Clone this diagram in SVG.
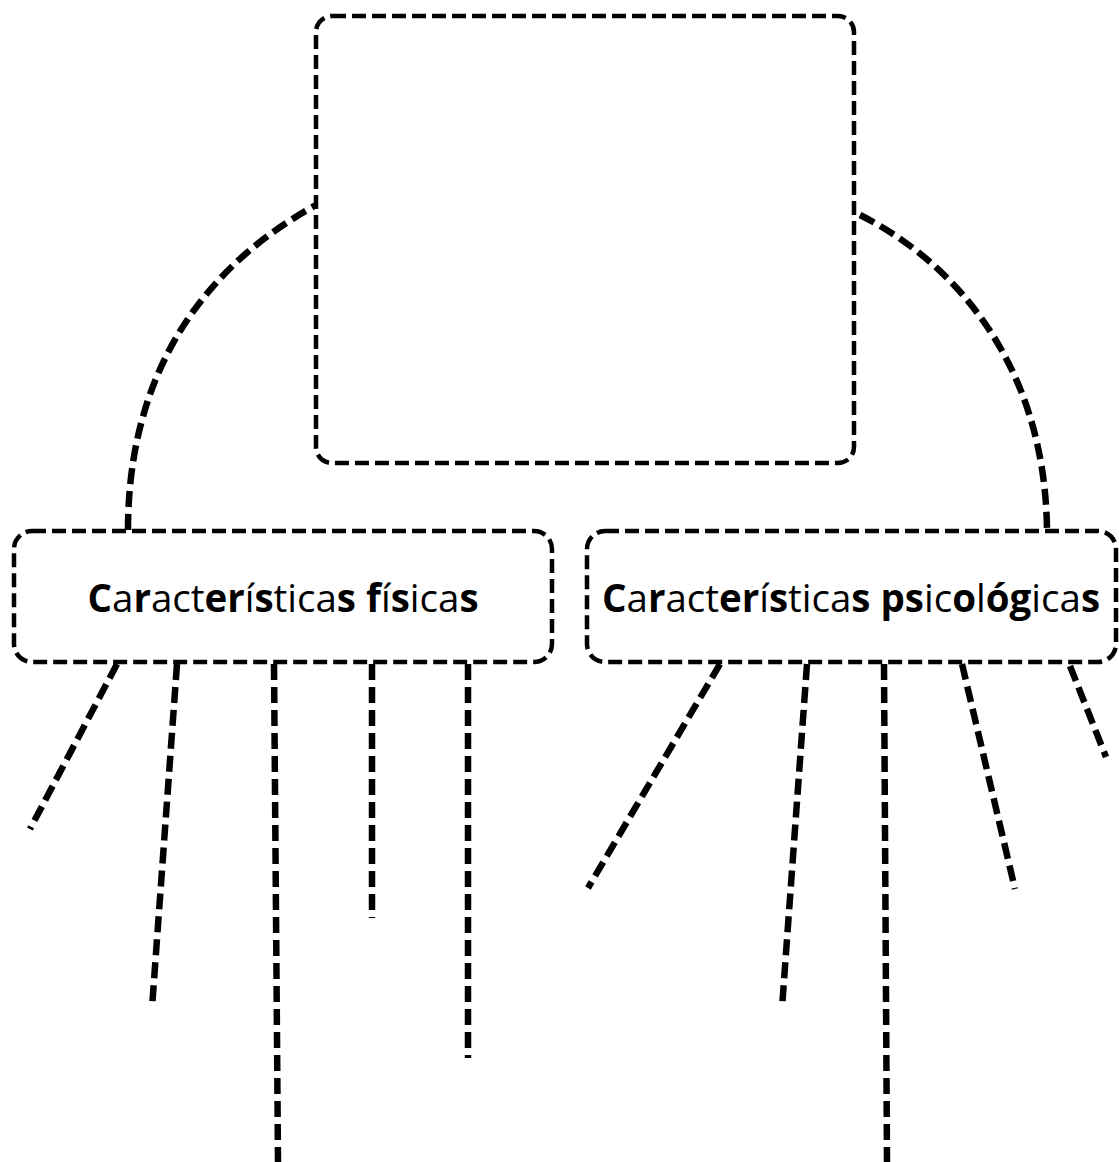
<svg xmlns="http://www.w3.org/2000/svg" width="1119" height="1162" viewBox="0 0 1119 1162">
<style>
.box{fill:#fff;stroke:#000;stroke-width:4.5;stroke-dasharray:14 6}
.con{fill:none;stroke:#000;stroke-width:6.5;stroke-dasharray:16 7}
.lbl{font-family:"Open Sans","Noto Sans",sans-serif;font-size:38.5px;fill:#000;font-weight:400}
.b{font-weight:700}
</style>
<rect width="1119" height="1162" fill="#fff"/>
<g id="connectors">
<path class="con" d="M128 530 C128 400 180 280 316 205"/>
<path class="con" d="M860 215 C950 260 1045 360 1047 530"/>
<line class="con" x1="117" y1="664" x2="30" y2="829"/>
<line class="con" x1="177" y1="664" x2="152" y2="1008"/>
<line class="con" x1="274" y1="664" x2="278" y2="1162"/>
<line class="con" x1="372" y1="664" x2="372" y2="918"/>
<line class="con" x1="468" y1="664" x2="468" y2="1058"/>
<line class="con" x1="720" y1="664" x2="588" y2="888"/>
<line class="con" x1="807" y1="664" x2="782" y2="1008"/>
<line class="con" x1="884" y1="664" x2="887" y2="1162"/>
<line class="con" x1="962" y1="664" x2="1015" y2="889"/>
<line class="con" x1="1070" y1="666" x2="1106" y2="757"/>
</g>
<g id="top">
<rect class="box" x="316" y="16" width="538" height="447" rx="16"/>
</g>
<g id="fisicas">
<rect class="box" x="14" y="531" width="538" height="131" rx="18"/>
<text class="lbl" x="283" y="612" text-anchor="middle"><tspan class="b">C</tspan>a<tspan class="b">r</tspan>act<tspan class="b">er</tspan>í<tspan class="b">s</tspan>tica<tspan class="b">s</tspan> <tspan class="b">f</tspan>í<tspan class="b">s</tspan>ica<tspan class="b">s</tspan></text>
</g>
<g id="psicologicas">
<rect class="box" x="587" y="531" width="529" height="131" rx="18"/>
<text class="lbl" x="851" y="612" text-anchor="middle"><tspan class="b">C</tspan>a<tspan class="b">r</tspan>act<tspan class="b">er</tspan>í<tspan class="b">s</tspan>tica<tspan class="b">s</tspan> <tspan class="b">ps</tspan>ic<tspan class="b">o</tspan>l<tspan class="b">óg</tspan>ica<tspan class="b">s</tspan></text>
</g>
</svg>
